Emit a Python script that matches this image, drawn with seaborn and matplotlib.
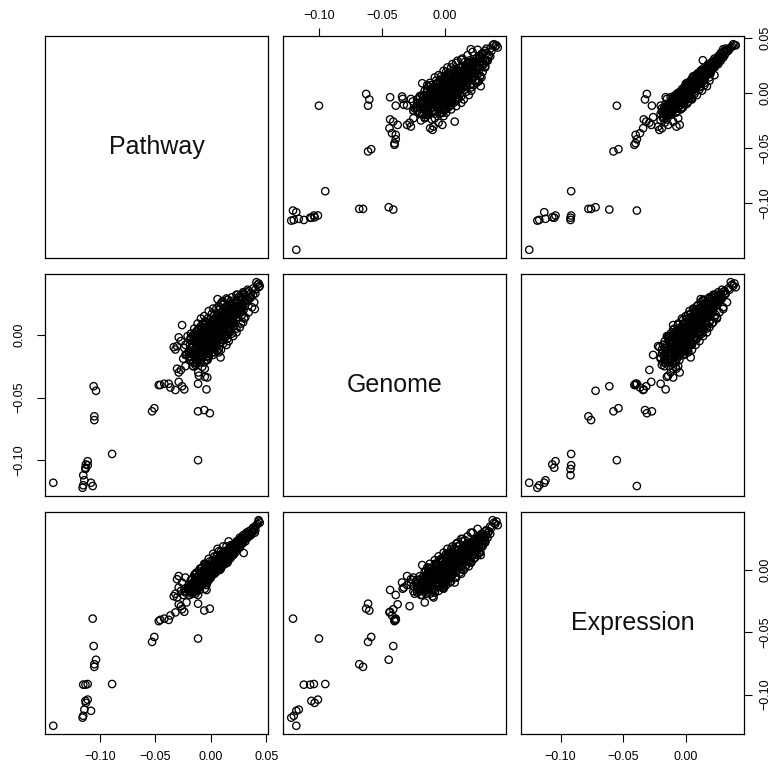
import matplotlib
matplotlib.use("Agg")
import numpy as np
import pandas as pd
import matplotlib.pyplot as plt
import seaborn as sns

# --------------------------------------------------
# Data (one entry per gene/sample)
# --------------------------------------------------

# isolated points away from the main cloud
pathway_out = [-0.142, -0.089, -0.0116, -0.053, -0.051, -0.105, -0.105, -0.1035, -0.1056, -0.1065,
               -0.111, -0.113, -0.115, -0.1156, -0.115, -0.114, -0.1126, -0.111, -0.113, -0.108,
               -0.0365, -0.038, -0.0456, -0.042, -0.032, -0.047, -0.024, -0.026, -0.029,
               -0.001, -0.006, -0.0116, -0.004, -0.0116, -0.0055, -0.0055, -0.0305, -0.029, -0.023,
               -0.0305, -0.032, -0.027, -0.024, -0.020, -0.026, 0.0395, 0.0295,
               -0.0114, -0.0078, -0.0108, -0.0033, -0.0335, -0.029, 0.0106, 0.006, 0.0057, 0.0087, -0.027, -0.022]
genome_out = [-0.118, -0.095, -0.100, -0.061, -0.0585, -0.068, -0.065, -0.0446, -0.041, -0.1206,
              -0.104, -0.107, -0.112, -0.122, -0.120, -0.116, -0.1034, -0.1008, -0.106, -0.118,
              -0.042, -0.039, -0.040, -0.039, -0.044, -0.040, -0.0435, -0.041, -0.0375,
              -0.0625, -0.060, -0.061, -0.0435, -0.039, -0.0335, -0.027, -0.027, -0.030, -0.025,
              -0.009, -0.0117, -0.005, -0.0104, -0.017, 0.0078, 0.0206, 0.020,
              -0.030, -0.0255, -0.0326, -0.034, -0.0098, -0.002, 0.027, 0.0285, -0.013, -0.018, -0.028, -0.016]
expression_out = [-0.125, -0.0915, -0.055, -0.0577, -0.0537, -0.0756, -0.0777, -0.072, -0.061, -0.039,
                  -0.0915, -0.092, -0.092, -0.1185, -0.117, -0.112, -0.1066, -0.104, -0.105, -0.113,
                  -0.0365, -0.040, -0.040, -0.039, -0.034, -0.041, -0.0335, -0.0315, -0.0275,
                  -0.031, -0.0325, -0.027, -0.016, -0.020, -0.015, -0.010, -0.0074, -0.0048, -0.006,
                  -0.022, -0.019, -0.0167, -0.015, -0.012, -0.010, 0.030, 0.0137,
                  -0.012, -0.008, -0.014, -0.010, -0.021, -0.014, 0.014, 0.012, 0.002, 0.004, -0.029, -0.026]

# dense cloud around zero, tight part
pathway_core = [
    -0.018, -0.016, -0.019, -0.014, -0.012, -0.017, -0.015, -0.011, -0.013, -0.020, -0.010, -0.016, -0.012,
    -0.018, -0.014, -0.011, -0.013, -0.015, -0.019, -0.010, -0.017, -0.012, -0.014, -0.016, -0.010,
    -0.009, -0.008, -0.007, -0.006, -0.005, -0.004, -0.003, -0.002, -0.001, -0.009, -0.008, -0.007, -0.006,
    -0.005, -0.004, -0.003, -0.002, -0.001, -0.009, -0.008, -0.007, -0.006, -0.005, -0.004, -0.003, -0.002,
    -0.001, -0.010, -0.008, -0.006, -0.004, -0.002, 0.000, -0.007, -0.005, -0.003, -0.001, -0.009, -0.006,
    -0.003, -0.002, -0.008, -0.004, -0.001, -0.005,
    0.001, 0.002, 0.003, 0.004, 0.005, 0.006, 0.007, 0.008, 0.009, 0.000, 0.001, 0.002, 0.003, 0.004,
    0.005, 0.006, 0.007, 0.008, 0.009, 0.010, 0.001, 0.002, 0.003, 0.004, 0.005, 0.006, 0.007, 0.008,
    0.009, 0.000, 0.002, 0.004, 0.006, 0.008, 0.010, 0.001, 0.003, 0.005, 0.007, 0.009, 0.002, 0.004,
    0.006, 0.008, 0.010,
    0.011, 0.012, 0.013, 0.014, 0.015, 0.016, 0.017, 0.018, 0.019, 0.011, 0.012, 0.013, 0.014, 0.015,
    0.016, 0.017, 0.018, 0.019, 0.020, 0.011, 0.013, 0.015, 0.017, 0.019, 0.012, 0.014, 0.016, 0.018,
    0.020, 0.013,
    0.021, 0.022, 0.023, 0.024, 0.025, 0.026, 0.027, 0.028, 0.029, 0.021, 0.023, 0.025, 0.027, 0.029,
    0.022, 0.024, 0.026, 0.028,
    0.031, 0.032, 0.033, 0.034, 0.036, 0.038, 0.040, 0.042, 0.043, 0.044, 0.041, 0.043,
]
genome_core = [
    -0.020, -0.012, -0.008, -0.018, -0.021, -0.015, -0.005, -0.016, -0.010, -0.013, -0.019, -0.022, -0.007,
    -0.003, -0.014, -0.011, -0.020, -0.017, -0.018, -0.014, -0.009, -0.015, -0.024, -0.001, -0.022,
    -0.010, -0.004, -0.013, -0.008, -0.002, -0.011, -0.006, -0.015, -0.003, 0.002, -0.016, -0.001, -0.012,
    -0.007, 0.003, -0.009, -0.004, -0.012, -0.006, -0.009, -0.018, 0.000, -0.014, -0.005, 0.001, -0.010,
    -0.007, -0.003, 0.005, -0.004, -0.017, 0.004, -0.008, -0.007, -0.010, -0.002, 0.002, -0.012, 0.006,
    -0.013, -0.001, -0.001, -0.008, -0.005, 0.004,
    -0.002, 0.003, -0.005, 0.006, 0.000, 0.008, 0.002, 0.010, 0.004, 0.005, -0.006, 0.008, 0.001, -0.003,
    0.010, 0.003, 0.012, 0.005, 0.000, 0.009, 0.007, -0.003, 0.004, 0.011, -0.004, 0.006, -0.001, 0.014,
    0.007, -0.009, 0.012, 0.002, 0.000, 0.003, 0.013, 0.001, 0.009, 0.005, 0.008, 0.011, -0.007, 0.008,
    0.013, 0.001, 0.004,
    0.010, 0.016, 0.007, 0.018, 0.012, 0.020, 0.013, 0.022, 0.015, 0.005, 0.011, 0.019, 0.009, 0.024,
    0.014, 0.008, 0.017, 0.025, 0.019, 0.015, 0.013, 0.017, 0.021, 0.011, 0.006, 0.014, 0.010, 0.027,
    0.016, 0.022,
    0.023, 0.018, 0.027, 0.021, 0.030, 0.024, 0.020, 0.029, 0.026, 0.015, 0.032, 0.022, 0.028, 0.033,
    0.025, 0.017, 0.031, 0.023,
    0.030, 0.034, 0.027, 0.035, 0.033, 0.037, 0.036, 0.040, 0.041, 0.039, 0.042, 0.038,
]
expression_core = [
    -0.017, -0.015, -0.018, -0.016, -0.014, -0.019, -0.013, -0.012, -0.015, -0.016, -0.011, -0.018, -0.010,
    -0.014, -0.012, -0.013, -0.017, -0.011, -0.020, -0.009, -0.016, -0.015, -0.019, -0.012, -0.016,
    -0.008, -0.007, -0.009, -0.005, -0.006, -0.004, -0.003, -0.005, -0.002, -0.006, -0.011, -0.008, -0.007,
    -0.003, -0.002, -0.006, -0.001, -0.004, -0.010, -0.005, -0.010, -0.004, -0.008, -0.005, -0.001, -0.003,
    0.000, -0.009, -0.004, -0.008, -0.009, 0.001, -0.002, -0.004, -0.006, -0.004, -0.002, -0.012, -0.003,
    -0.007, -0.003, -0.009, -0.001, -0.003, -0.005,
    0.001, 0.002, 0.001, 0.004, 0.003, 0.006, 0.005, 0.008, 0.007, 0.001, -0.001, 0.004, 0.003, 0.002,
    0.007, 0.004, 0.009, 0.006, 0.005, 0.010, 0.003, 0.000, 0.005, 0.006, 0.002, 0.008, 0.004, 0.010,
    0.009, -0.003, 0.005, 0.001, 0.005, 0.007, 0.011, 0.000, 0.006, 0.004, 0.007, 0.010, -0.001, 0.003,
    0.009, 0.005, 0.008,
    0.011, 0.013, 0.011, 0.015, 0.013, 0.017, 0.015, 0.018, 0.017, 0.009, 0.010, 0.014, 0.012, 0.016,
    0.014, 0.013, 0.019, 0.020, 0.018, 0.012, 0.012, 0.015, 0.018, 0.016, 0.010, 0.013, 0.013, 0.020,
    0.019, 0.015,
    0.020, 0.019, 0.022, 0.021, 0.024, 0.023, 0.022, 0.026, 0.025, 0.017, 0.023, 0.020, 0.025, 0.028,
    0.021, 0.020, 0.026, 0.024,
    0.028, 0.030, 0.027, 0.031, 0.032, 0.034, 0.035, 0.037, 0.039, 0.038, 0.036, 0.040,
]

# dense cloud, wider scattered part
pathway_cloud = [
    -0.013, -0.023, -0.018, -0.025, -0.010, -0.016,
    -0.006, -0.021, -0.011, -0.023, -0.004, -0.016, -0.009, -0.019,
    -0.003, -0.018, -0.008, -0.020, 0.001, -0.013, -0.006, -0.016, -0.001, -0.010,
    0.002, -0.015, -0.002, -0.017, 0.006, -0.010, 0.000, -0.013, -0.005, -0.008, 0.004, -0.018,
    0.007, -0.012, 0.001, -0.013, 0.010, -0.007, 0.004, -0.009, -0.002, -0.005, 0.008, -0.015,
    0.009, -0.009, 0.005, -0.011, 0.014, -0.003, 0.006, -0.006, 0.002, -0.002, 0.011, -0.013, 0.008,
    0.014, -0.006, 0.008, -0.007, 0.017, 0.000, 0.011, -0.003, 0.005, 0.002, 0.015, -0.008, 0.011,
    0.016, -0.002, 0.012, -0.004, 0.020, 0.004, 0.013, 0.001, 0.009, 0.005, 0.018, -0.005,
    0.020, 0.002, 0.015, 0.001, 0.023, 0.008, 0.017, 0.005, 0.013, 0.009, 0.021,
    0.023, 0.007, 0.019, 0.006, 0.026, 0.012, 0.021, 0.009, 0.017, 0.013,
    0.026, 0.010, 0.022, 0.009, 0.028, 0.015, 0.023, 0.013, 0.020,
    0.029, 0.015, 0.025, 0.014, 0.031, 0.019, 0.027, 0.017,
    0.031, 0.019, 0.028, 0.018, 0.033, 0.023, 0.029,
    0.034, 0.024, 0.031, 0.023, 0.036, 0.028,
    0.037, 0.029, 0.035, 0.028, 0.038,
    0.039, 0.033, 0.040, 0.032,
    -0.002, -0.019, -0.006, -0.015, 0.000, -0.012, -0.004, -0.017,
    0.003, -0.015, -0.001, -0.012, 0.004, -0.009, -0.003, -0.014, 0.001, -0.007,
    0.007, -0.011, 0.003, -0.009, 0.008, -0.005, 0.001, -0.010, 0.005, -0.003, -0.013, 0.009,
    0.011, -0.007, 0.007, -0.005, 0.012, -0.001, 0.005, -0.006, 0.009, 0.001, -0.009, 0.013,
    0.015, -0.003, 0.011, -0.001, 0.016, 0.003, 0.009, -0.002, 0.013, 0.005, -0.005, 0.017,
    0.019, 0.001, 0.015, 0.003, 0.020, 0.007, 0.013, 0.002, 0.017, 0.009,
    0.023, 0.005, 0.019, 0.007, 0.024, 0.011, 0.017, 0.006,
    0.027, 0.009, 0.023, 0.011, 0.028, 0.015,
    0.030, 0.014, 0.027, 0.016,
]
genome_cloud = [
    -0.022, -0.008, -0.014, -0.019, -0.006, -0.025,
    -0.022, -0.001, -0.006, -0.016, -0.010, -0.025, 0.001, -0.020,
    -0.020, 0.001, -0.004, -0.014, -0.003, -0.023, 0.004, -0.010, -0.012, 0.000,
    -0.016, 0.005, 0.000, -0.010, -0.002, -0.019, 0.009, -0.006, -0.012, 0.002, -0.007, -0.002,
    -0.014, 0.009, 0.002, -0.009, 0.004, -0.017, 0.013, -0.004, -0.011, 0.005, -0.006, 0.000,
    -0.012, 0.013, 0.004, -0.005, 0.008, -0.015, 0.017, -0.002, -0.008, 0.009, -0.004, 0.002, 0.011,
    -0.008, 0.015, 0.008, -0.003, 0.010, -0.012, 0.019, 0.002, -0.006, 0.012, 0.000, 0.006, 0.013,
    -0.005, 0.019, 0.012, 0.001, 0.011, -0.008, 0.021, 0.005, -0.002, 0.015, 0.003, 0.010,
    -0.001, 0.021, 0.014, 0.004, 0.016, -0.004, 0.023, 0.008, 0.002, 0.018, 0.007,
    0.002, 0.023, 0.017, 0.007, 0.018, 0.000, 0.025, 0.011, 0.005, 0.021,
    0.006, 0.026, 0.019, 0.010, 0.022, 0.004, 0.027, 0.014, 0.009,
    0.010, 0.028, 0.022, 0.014, 0.025, 0.008, 0.030, 0.018,
    0.014, 0.030, 0.024, 0.017, 0.028, 0.012, 0.032,
    0.018, 0.032, 0.027, 0.021, 0.030, 0.016,
    0.022, 0.034, 0.029, 0.024, 0.032,
    0.026, 0.036, 0.033, 0.028,
    -0.018, -0.004, -0.012, -0.016, -0.006, -0.001, -0.020, -0.009,
    -0.014, 0.001, -0.009, -0.013, -0.002, 0.004, -0.017, -0.005, 0.006, -0.010,
    -0.011, 0.005, -0.006, -0.010, 0.002, 0.008, -0.014, -0.001, 0.010, -0.007, 0.003, -0.004,
    -0.007, 0.009, -0.002, -0.006, 0.006, 0.012, -0.010, 0.003, 0.014, -0.003, 0.007, 0.000,
    -0.003, 0.013, 0.002, -0.002, 0.010, 0.016, -0.006, 0.007, 0.018, 0.001, 0.011, 0.004,
    0.001, 0.017, 0.006, 0.002, 0.014, 0.020, -0.002, 0.011, 0.021, 0.005,
    0.005, 0.021, 0.010, 0.006, 0.018, 0.024, 0.002, 0.015,
    0.009, 0.025, 0.014, 0.010, 0.022, 0.028,
    0.013, 0.029, 0.018, 0.014,
]
expression_cloud = [
    -0.014, -0.018, -0.012, -0.020, -0.013, -0.017,
    -0.008, -0.015, -0.011, -0.017, -0.007, -0.013, -0.009, -0.016,
    -0.005, -0.012, -0.006, -0.014, -0.003, -0.010, -0.007, -0.011, -0.002, -0.009,
    -0.001, -0.009, -0.003, -0.011, 0.001, -0.007, -0.002, -0.010, -0.005, -0.004, -0.002, -0.008,
    0.002, -0.006, 0.000, -0.008, 0.004, -0.005, 0.001, -0.006, -0.001, -0.003, 0.000, -0.004,
    0.005, -0.003, 0.003, -0.005, 0.006, -0.001, 0.004, -0.004, 0.001, 0.002, 0.004, -0.002, 0.007,
    0.008, 0.000, 0.006, -0.002, 0.010, 0.001, 0.007, 0.000, 0.005, 0.003, 0.006, 0.002, 0.009,
    0.011, 0.003, 0.009, 0.001, 0.012, 0.005, 0.010, 0.002, 0.007, 0.008, 0.010, 0.004,
    0.014, 0.006, 0.012, 0.004, 0.015, 0.008, 0.013, 0.006, 0.010, 0.011, 0.013,
    0.017, 0.009, 0.015, 0.008, 0.018, 0.011, 0.016, 0.009, 0.013, 0.014,
    0.019, 0.012, 0.018, 0.011, 0.021, 0.014, 0.019, 0.013, 0.016,
    0.022, 0.015, 0.021, 0.014, 0.023, 0.017, 0.021, 0.016,
    0.025, 0.019, 0.023, 0.018, 0.026, 0.020, 0.024,
    0.027, 0.022, 0.026, 0.021, 0.028, 0.024,
    0.030, 0.026, 0.029, 0.025, 0.031,
    0.033, 0.029, 0.032, 0.028,
    -0.008, -0.013, -0.011, -0.009, -0.006, -0.014, -0.012, -0.007,
    -0.003, -0.009, -0.007, -0.005, -0.002, -0.010, -0.008, -0.003, -0.004, -0.006,
    0.001, -0.005, -0.003, -0.001, 0.002, -0.006, -0.004, 0.001, 0.000, -0.002, -0.003, 0.001,
    0.005, -0.001, 0.001, 0.003, 0.006, -0.002, 0.000, 0.005, 0.004, 0.002, 0.001, 0.005,
    0.009, 0.003, 0.005, 0.007, 0.010, 0.002, 0.004, 0.009, 0.008, 0.006, 0.005, 0.009,
    0.013, 0.007, 0.009, 0.011, 0.014, 0.006, 0.008, 0.013, 0.012, 0.010,
    0.017, 0.011, 0.013, 0.015, 0.018, 0.010, 0.012, 0.017,
    0.021, 0.015, 0.017, 0.019, 0.022, 0.014,
    0.025, 0.019, 0.021, 0.023,
]

variables = ["Pathway", "Genome", "Expression"]
tick_values = {
    "Pathway": [-0.10, -0.05, 0.00, 0.05],
    "Genome": [-0.10, -0.05, 0.00],
    "Expression": [-0.10, -0.05, 0.00],
}

df = pd.DataFrame({
    "Pathway": pathway_out + pathway_core + pathway_cloud,
    "Genome": genome_out + genome_core + genome_cloud,
    "Expression": expression_out + expression_core + expression_cloud,
})

# --------------------------------------------------
# Style: mimic base-R pairs()
# --------------------------------------------------
sns.set_theme(style="ticks")
plt.rcParams["font.family"] = ["Liberation Sans", "DejaVu Sans"]
plt.rcParams["axes.edgecolor"] = "black"
plt.rcParams["axes.linewidth"] = 0.9

g = sns.PairGrid(df, vars=variables, height=2.5, despine=False)
g.map_offdiag(sns.scatterplot, s=28, facecolor="none", edgecolor="black", linewidth=0.95)

fig = g.figure
fig.set_size_inches(7.76, 7.72)
fig.subplots_adjust(left=45 / 776, right=744 / 776, bottom=1 - 734 / 772, top=1 - 36 / 772,
                    wspace=0.067, hspace=0.072)


def fmt(v):
    return f"{v:.2f}".replace("-", "\u2212")


# axis ranges like R: data range extended by 4%
for k, var in enumerate(variables):
    lo, hi = df[var].min(), df[var].max()
    pad = 0.04 * (hi - lo)
    g.axes[0, k].set_xlim(lo - pad, hi + pad)
    g.axes[k, 0].set_ylim(lo - pad, hi + pad)
    g.axes[0, k].set_xticks(tick_values[var], labels=[fmt(t) for t in tick_values[var]])
    g.axes[k, 0].set_yticks(tick_values[var], labels=[fmt(t) for t in tick_values[var]])

n = len(variables)
for i in range(n):
    for j in range(n):
        ax = g.axes[i, j]
        ax.set_xlabel("")
        ax.set_ylabel("")
        for side in ["top", "bottom", "left", "right"]:
            ax.spines[side].set_visible(True)
            ax.spines[side].set_color("black")
        ax.tick_params(which="both", bottom=False, top=False, left=False, right=False,
                       labelbottom=False, labeltop=False, labelleft=False, labelright=False,
                       length=6, width=0.8, pad=6, labelsize=9, colors="black", direction="out")
        # R alternates the outer axes
        if i == n - 1 and j % 2 == 0:
            ax.tick_params(axis="x", bottom=True, labelbottom=True)
        if i == 0 and j % 2 == 1:
            ax.tick_params(axis="x", top=True, labeltop=True, pad=4)
        if j == 0 and i % 2 == 1:
            ax.tick_params(axis="y", left=True, labelleft=True, labelrotation=90, pad=8)
            plt.setp(ax.get_yticklabels(), va="center")
        if j == n - 1 and i % 2 == 0:
            ax.tick_params(axis="y", right=True, labelright=True, labelrotation=90, pad=5)
            plt.setp(ax.get_yticklabels(), va="center")
        if i == j:
            ax.text(0.5, 0.5, variables[i], transform=ax.transAxes, ha="center", va="center",
                    fontsize=18, color="#111111")

fig.savefig("out.png", dpi=100)
